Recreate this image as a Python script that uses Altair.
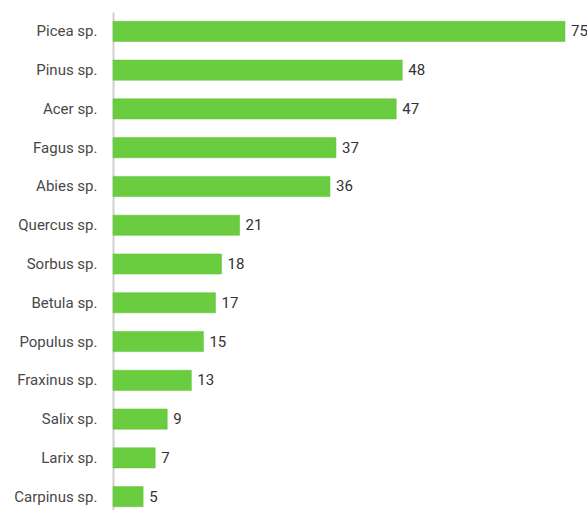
import altair as alt
import pandas as pd

species = ["Picea sp.", "Pinus sp.", "Acer sp.", "Fagus sp.", "Abies sp.", "Quercus sp.",
           "Sorbus sp.", "Betula sp.", "Populus sp.", "Fraxinus sp.", "Salix sp.", "Larix sp.",
           "Carpinus sp."]
counts = [75, 48, 47, 37, 36, 21, 18, 17, 15, 13, 9, 7, 5]

df = pd.DataFrame({"species": species, "count": counts})

y = alt.Y("species:N", sort=species, title=None,
          scale=alt.Scale(paddingInner=0.48, paddingOuter=0.24),
          axis=alt.Axis(domainColor="#d0d0d0", domainWidth=2, ticks=False, labelPadding=16,
                        labelFont="Roboto", labelFontSize=15, labelColor="#484848"))
x = alt.X("count:Q", title=None, axis=None, scale=alt.Scale(domain=[0, 75], nice=False))

bars = alt.Chart(df).mark_bar(color="#6ACC3F", stroke="#5cc035", strokeWidth=0.5).encode(x=x, y=y)
labels = alt.Chart(df).mark_text(align="left", dx=6, font="Roboto", fontSize=15,
                                 color="#333333").encode(x=x, y=y, text="count:Q")

chart = (bars + labels).properties(
    width=452, height=504,
    autosize=alt.AutoSizeParams(type="none"),
    padding={"left": 113, "top": 12, "right": 22, "bottom": 0},
    background="white",
).configure_view(stroke=None)

chart.save("out.html", embed_options={"renderer": "svg", "actions": False})
